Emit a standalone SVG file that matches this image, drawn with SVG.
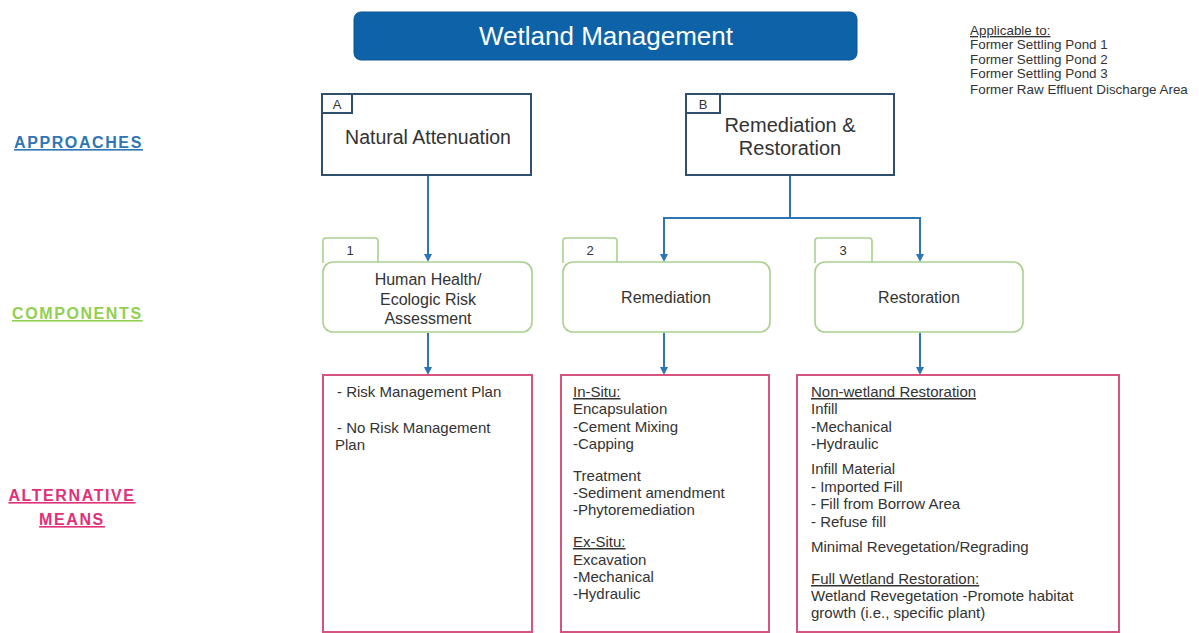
<svg xmlns="http://www.w3.org/2000/svg" width="1199" height="633" viewBox="0 0 1199 633">
<style>
text{font-family:"Liberation Sans",Arial,sans-serif;fill:#333}
.lbl{font-weight:bold;font-size:16px;letter-spacing:1.6px;text-decoration:underline}
.app{fill:#2e75b6}
.comp{fill:#92d050}
.alt{fill:#e0307a}
.boxA{fill:#fff;stroke:#2f4f6f;stroke-width:2}
.boxC{fill:#fff;stroke:#a9d18e;stroke-width:1.6}
.boxM{fill:#fff;stroke:#d6557f;stroke-width:2}
.t14{font-size:15px}
.app-t{font-size:13.4px}
.conn{fill:none;stroke:#2e75b6;stroke-width:2}
</style>
<defs>
<marker id="ah" viewBox="0 0 10 10" refX="5" refY="5" markerWidth="4" markerHeight="4" orient="auto" markerUnits="strokeWidth">
<path d="M0,0 L10,5 L0,10 z" fill="#2e75b6"/>
</marker>
</defs>
<rect width="1199" height="633" fill="#fff"/>

<g id="title">
<rect x="354" y="12" width="503" height="48" rx="7" fill="#0e63a8" stroke="#0a5592" stroke-width="1"/>
<text x="606" y="45" text-anchor="middle" style="font-size:26px;fill:#fff">Wetland Management</text>
</g>

<g id="applicable">
<text x="970" y="35" class="app-t" text-decoration="underline">Applicable to:</text>
<text x="970" y="49" class="app-t">Former Settling Pond 1</text>
<text x="970" y="64" class="app-t">Former Settling Pond 2</text>
<text x="970" y="78" class="app-t">Former Settling Pond 3</text>
<text x="970" y="94" class="app-t">Former Raw Effluent Discharge Area</text>
</g>

<g id="row-labels">
<text x="14" y="148" class="lbl app">APPROACHES</text>
<text x="12" y="319" class="lbl comp">COMPONENTS</text>
<text x="72" y="501" text-anchor="middle" class="lbl alt">ALTERNATIVE</text>
<text x="72" y="525" text-anchor="middle" class="lbl alt">MEANS</text>
</g>

<g id="connectors">
<path class="conn" d="M428,175 V258" marker-end="url(#ah)"/>
<path class="conn" d="M790,175 V218 H664 V258" marker-end="url(#ah)"/>
<path class="conn" d="M790,218 H920 V258" marker-end="url(#ah)"/>
<path class="conn" d="M428,333 V371" marker-end="url(#ah)"/>
<path class="conn" d="M664,333 V371" marker-end="url(#ah)"/>
<path class="conn" d="M920,333 V371" marker-end="url(#ah)"/>
</g>

<g id="nodeA">
<rect x="322" y="94" width="209" height="81" class="boxA"/>
<rect x="322" y="94" width="30" height="19" class="boxA"/>
<text x="337" y="109" text-anchor="middle" style="font-size:13px">A</text>
<text x="428" y="144" text-anchor="middle" style="font-size:19.5px">Natural Attenuation</text>
</g>

<g id="nodeB">
<rect x="686" y="94" width="208" height="81" class="boxA"/>
<rect x="686" y="94" width="34" height="19" class="boxA"/>
<text x="703" y="109" text-anchor="middle" style="font-size:13px">B</text>
<text x="790" y="132" text-anchor="middle" style="font-size:20px">Remediation &amp;</text>
<text x="790" y="155" text-anchor="middle" style="font-size:20px">Restoration</text>
</g>

<g id="comp1">
<path d="M323,263 V241 Q323,238 326,238 H375 Q378,238 378,241 V263" class="boxC"/>
<text x="350" y="255" text-anchor="middle" style="font-size:13px">1</text>
<rect x="323" y="262" width="209" height="70" rx="10" class="boxC"/>
<text x="428" y="285" text-anchor="middle" style="font-size:16px">Human Health/</text>
<text x="428" y="305" text-anchor="middle" style="font-size:16px">Ecologic Risk</text>
<text x="428" y="324" text-anchor="middle" style="font-size:16px">Assessment</text>
</g>

<g id="comp2">
<path d="M563,263 V241 Q563,238 566,238 H614 Q617,238 617,241 V263" class="boxC"/>
<text x="590" y="255" text-anchor="middle" style="font-size:13px">2</text>
<rect x="563" y="262" width="207" height="70" rx="10" class="boxC"/>
<text x="666" y="303" text-anchor="middle" style="font-size:16px">Remediation</text>
</g>

<g id="comp3">
<path d="M815,263 V241 Q815,238 818,238 H869 Q872,238 872,241 V263" class="boxC"/>
<text x="843" y="255" text-anchor="middle" style="font-size:13px">3</text>
<rect x="815" y="262" width="208" height="70" rx="10" class="boxC"/>
<text x="919" y="303" text-anchor="middle" style="font-size:16px">Restoration</text>
</g>

<g id="alt1">
<rect x="323" y="375" width="209" height="257" class="boxM"/>
<text x="337" y="397" class="t14">- Risk Management Plan</text>
<text x="337" y="433" class="t14">- No Risk Management</text>
<text x="335" y="450" class="t14">Plan</text>
</g>

<g id="alt2">
<rect x="561" y="375" width="208" height="257" class="boxM"/>
<text x="573" y="397" class="t14" text-decoration="underline">In-Situ:</text>
<text x="573" y="414" class="t14">Encapsulation</text>
<text x="573" y="432" class="t14">-Cement Mixing</text>
<text x="573" y="449" class="t14">-Capping</text>
<text x="573" y="481" class="t14">Treatment</text>
<text x="573" y="498" class="t14">-Sediment amendment</text>
<text x="573" y="515" class="t14">-Phytoremediation</text>
<text x="573" y="547" class="t14" text-decoration="underline">Ex-Situ:</text>
<text x="573" y="565" class="t14">Excavation</text>
<text x="573" y="582" class="t14">-Mechanical</text>
<text x="573" y="599" class="t14">-Hydraulic</text>
</g>

<g id="alt3">
<rect x="797" y="375" width="322" height="257" class="boxM"/>
<text x="811" y="397" class="t14" text-decoration="underline">Non-wetland Restoration</text>
<text x="811" y="414" class="t14">Infill</text>
<text x="811" y="432" class="t14">-Mechanical</text>
<text x="811" y="449" class="t14">-Hydraulic</text>
<text x="811" y="474" class="t14">Infill Material</text>
<text x="811" y="492" class="t14">- Imported Fill</text>
<text x="811" y="509" class="t14">- Fill from Borrow Area</text>
<text x="811" y="527" class="t14">- Refuse fill</text>
<text x="811" y="552" class="t14">Minimal Revegetation/Regrading</text>
<text x="811" y="584" class="t14" text-decoration="underline">Full Wetland Restoration:</text>
<text x="811" y="601" class="t14">Wetland Revegetation -Promote habitat</text>
<text x="811" y="618" class="t14">growth (i.e., specific plant)</text>
</g>
</svg>
